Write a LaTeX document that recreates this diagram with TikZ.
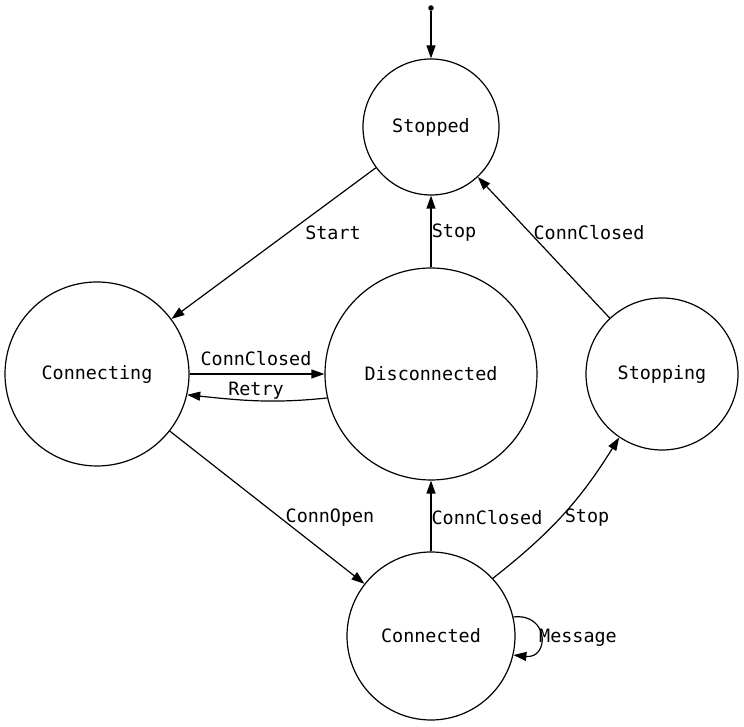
\documentclass[tikz,border=0pt]{standalone}
\usepackage{fontspec}
\newfontfamily\lblfont{DejaVu Sans Mono}
\usetikzlibrary{arrows.meta}
\begin{document}
\begin{tikzpicture}[x=1pt,y=1pt,
  state/.style={draw,circle,line width=1.2pt,inner sep=0pt,font=\lblfont\fontsize{18.4}{22}\selectfont},
  lbl/.style={inner sep=0pt,font=\lblfont\fontsize{18.4}{22}\selectfont},
  trans/.style={line width=1.2pt,-{Triangle[length=13pt,width=9pt]}}]
\useasboundingbox (0,0) rectangle (744,727);
\node[fill,circle,inner sep=0pt,minimum size=5.5pt] (init) at (431,719) {};
\node[state,minimum size=136pt] (stopped) at (431,600) {\raisebox{-1pt}{Stopped}};
\node[state,minimum size=184pt] (connecting) at (97,353) {\raisebox{-1pt}{Connecting}};
\node[state,minimum size=212pt] (disconnected) at (431,353) {\raisebox{-1pt}{Disconnected}};
\node[state,minimum size=152pt] (stopping) at (662,353) {\raisebox{-1pt}{Stopping}};
\node[state,minimum size=168pt] (connected) at (431,91) {\raisebox{-1pt}{Connected}};

\draw[trans] (init) -- (stopped);
\draw[trans] (stopped) -- (connecting);
\draw[trans] (disconnected) -- (stopped);
\draw[trans] (stopping) -- (stopped);
\draw[trans] (connecting.east) -- (disconnected.west);
\draw[trans] (disconnected.193) to[out=186,in=-6] (connecting.347);
\draw[trans] (connecting) -- (connected);
\draw[trans] (connected) -- (disconnected);
\draw[trans] (connected.43) to[bend right=10] (stopping.236);
\draw[trans] (connected.13) .. controls +(36,4) and +(36,-4) .. (connected.-13);

\node[lbl] (lstart) at (333,494) {Start};
\node[lbl] (lstop1) at (454,494) {Stop};
\node[lbl] (lcc1) at (589,494) {ConnClosed};
\node[lbl] (lcc2) at (256,368) {ConnClosed};
\node[lbl] (lretry) at (256,336) {Retry};
\node[lbl] (lopen) at (330,209) {ConnOpen};
\node[lbl] (lcc3) at (487,209) {ConnClosed};
\node[lbl] (lstop2) at (587,209) {Stop};
\node[lbl] (lmsg) at (578,89) {Message};
\end{tikzpicture}
\end{document}
